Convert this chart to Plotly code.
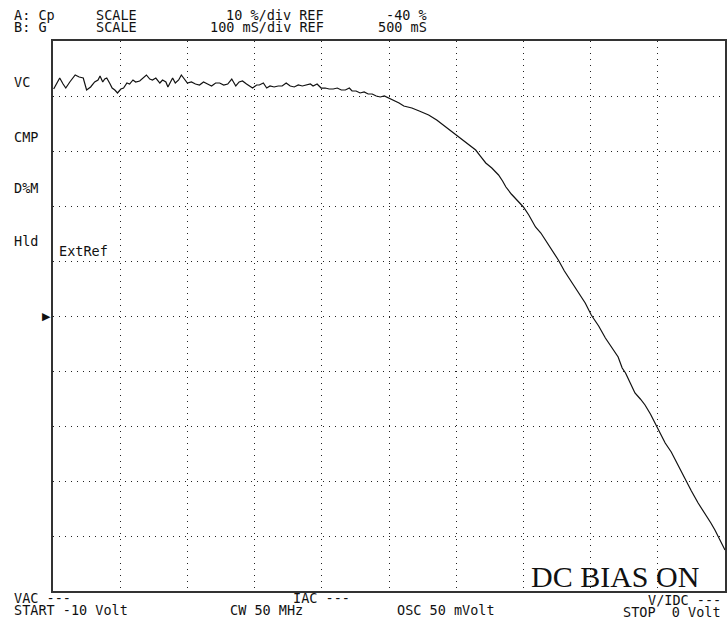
import plotly.graph_objects as go

# DC bias sweep (volts) and Cp trace (% deviation)
bias_volts = [
    -9.99, -9.94, -9.90, -9.85, -9.81, -9.75, -9.67, -9.61, -9.55, -9.50,
    -9.44, -9.38, -9.33, -9.30, -9.26, -9.23, -9.20, -9.15, -9.12, -9.08,
    -9.04, -8.99, -8.95, -8.90, -8.86, -8.81, -8.77, -8.71, -8.66, -8.61,
    -8.56, -8.52, -8.47, -8.41, -8.37, -8.32, -8.29, -8.25, -8.22, -8.18,
    -8.13, -8.09, -8.04, -8.00, -7.94, -7.88, -7.82, -7.76, -7.70, -7.64,
    -7.58, -7.52, -7.46, -7.40, -7.34, -7.28, -7.23, -7.18, -7.12, -7.08,
    -7.03, -6.97, -6.93, -6.87, -6.82, -6.77, -6.71, -6.65, -6.59, -6.53,
    -6.47, -6.41, -6.35, -6.29, -6.23, -6.17, -6.13, -6.07, -6.01, -5.95,
    -5.89, -5.83, -5.77, -5.71, -5.65, -5.59, -5.55, -5.49, -5.43, -5.37,
    -5.31, -5.25, -5.19, -5.13, -5.07, -5.01, -4.96, -4.90, -4.85,
    -4.78, -4.66, -4.55, -4.41, -4.29, -4.15, -4.08, -3.99, -3.92, -3.86,
    -3.78, -3.71, -3.64, -3.56, -3.47, -3.37, -3.31, -3.26, -3.18, -3.07,
    -3.00, -2.92, -2.82, -2.74, -2.67, -2.58, -2.48, -2.39, -2.28, -2.18,
    -2.08, -1.99, -1.88, -1.78, -1.69, -1.59, -1.53, -1.48, -1.41, -1.34,
    -1.26, -1.19, -1.11, -1.04, -0.96, -0.89, -0.80, -0.70, -0.64, -0.59,
    -0.50, -0.40, -0.30, -0.21, -0.15, -0.10, -0.04, 0.00,
]
cp_percent = [
    1.27, 2.55, 3.27, 2.18, 1.45, 2.55, 3.82, 3.45, 3.27, 1.09,
    1.64, 2.55, 2.91, 3.64, 2.55, 3.09, 3.27, 2.18, 1.45, 1.09,
    0.55, 1.27, 1.45, 2.36, 2.18, 2.91, 2.55, 2.73, 3.27, 3.82,
    3.09, 2.91, 3.27, 2.36, 2.91, 2.55, 1.64, 2.55, 3.27, 2.36,
    2.91, 3.82, 2.91, 2.36, 2.55, 2.18, 2.00, 2.55, 2.18, 1.82,
    2.36, 2.36, 2.00, 2.18, 3.09, 1.82, 2.55, 2.73, 2.18, 1.82,
    1.45, 2.00, 2.00, 2.36, 1.45, 1.82, 1.64, 1.82, 1.82, 2.36,
    1.82, 1.64, 2.00, 1.82, 2.00, 2.18, 1.82, 2.18, 1.45, 1.45,
    1.27, 1.27, 1.45, 1.09, 1.09, 1.45, 0.91, 0.91, 0.55, 0.73,
    0.36, 0.36, 0.00, -0.18, 0.00, -0.36, -0.55, -0.91, -1.27,
    -1.82, -2.18, -2.73, -3.45, -4.36, -5.64, -6.36, -7.09, -7.82, -8.36,
    -9.09, -9.82, -10.91, -12.18, -13.09, -14.36, -15.45, -16.55, -17.82, -19.27,
    -20.18, -21.64, -23.82, -24.91, -26.18, -28.00, -29.82, -31.82, -33.82, -35.64,
    -37.64, -39.82, -41.82, -44.00, -45.64, -47.45, -49.45, -50.36, -52.18, -54.00,
    -55.09, -56.18, -57.82, -59.45, -61.27, -63.09, -64.73, -67.09, -68.55, -69.82,
    -71.82, -74.00, -75.82, -77.64, -78.91, -80.18, -81.45, -82.55,
]

# Axis settings (instrument display)
x_start, x_stop, x_div = -10, 0, 1          # Volt
ref_value, scale_per_div, n_div = -40, 10, 10  # %
y_top = ref_value + scale_per_div * n_div / 2
y_bottom = ref_value - scale_per_div * n_div / 2

W, H = 728, 624
ML, MR, MT, MB = 53, 1, 41, 33
PW, PH = W - ML - MR, H - MT - MB

def px(x):
    return (x - ML) / PW

def py(y):
    return (H - MB - y) / PH

MONO = "DejaVu Sans Mono"
TXT = "#111111"

fig = go.Figure()
fig.add_trace(go.Scatter(
    x=bias_volts, y=cp_percent, mode="lines",
    line=dict(color="#111111", width=1.2), hoverinfo="skip", showlegend=False,
))

ann = []
def label(text, x, y, anchor="left", size=13.5, family=MONO, yref="paper"):
    ann.append(dict(text=text, x=px(x), y=(py(y) if yref == "paper" else y),
                    xref="paper", yref=yref, xanchor=anchor, yanchor="middle",
                    showarrow=False, borderpad=0,
                    font=dict(family=family, size=size, color=TXT)))

# header
label("A: Cp", 13, 15)
label("SCALE", 95, 15)
label("10 %/div REF", 326, 15, "right")
label("-40 %", 429, 15, "right")
label("B: G", 13, 27)
label("SCALE", 95, 27)
label("100 mS/div REF", 326, 27, "right")
label("500 mS", 429, 27, "right")
# left side labels
label("VC", 13, 82)
label("CMP", 13, 137)
label("D%M", 13, 188)
label("Hld", 13, 241)
label("ExtRef", 58, 251)
label("\u25B6", 52, ref_value, "right", size=11, family="DejaVu Sans", yref="y")
# footer
label("VAC ---", 13, 598)
label("START -10 Volt", 13, 610)
label("IAC ---", 293, 598)
label("CW 50 MHz", 230, 610)
label("OSC 50 mVolt", 397, 610)
label("V/IDC ---", 724, 600, "right")
label("STOP\u00a0\u00a00 Volt", 724, 612, "right")
label("DC BIAS ON", 531, 576, size=30, family="Liberation Serif")

axis_common = dict(
    showgrid=True, gridcolor="#222222", gridwidth=1, griddash="1px,5px",
    zeroline=False, showticklabels=False, ticks="",
    showline=True, linecolor="#333333", linewidth=2, mirror=True,
)
fig.update_layout(
    width=W, height=H,
    margin=dict(l=ML, r=MR, t=MT, b=MB),
    paper_bgcolor="white", plot_bgcolor="white",
    xaxis=dict(range=[x_start, x_stop], dtick=x_div, tick0=x_start, **axis_common),
    yaxis=dict(range=[y_bottom, y_top], dtick=scale_per_div, tick0=y_bottom, **axis_common),
    annotations=ann,
    showlegend=False,
)
fig.write_html(
    "out.html",
    config={"displayModeBar": False},
    post_script="document.body.style.margin='0';document.body.style.padding='0';document.body.style.overflow='hidden';",
)
